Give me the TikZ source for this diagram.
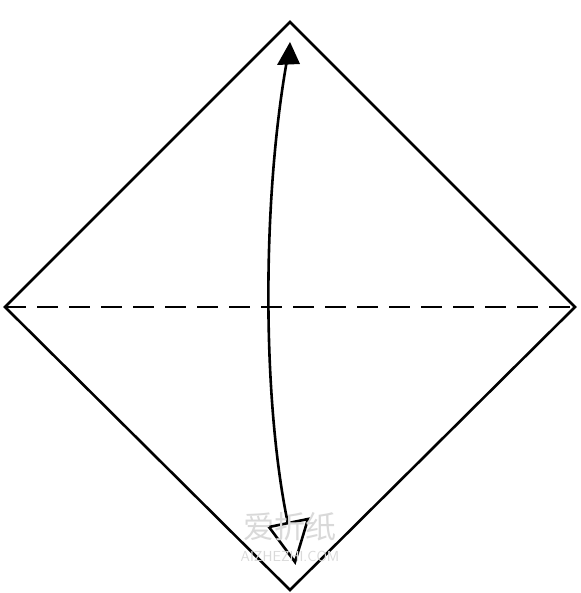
\documentclass[tikz,border=0pt]{standalone}
\usepackage{fontspec}
\newfontfamily\cjk{Noto Sans CJK SC}
\begin{document}
\begin{tikzpicture}[x=1pt,y=-1pt,
  edge/.style={line width=2.6pt,line join=miter},
  fold/.style={line width=2.8pt,dash pattern=on 21pt off 11pt},
  arc/.style={line width=2.6pt},
  wm/.style={text=gray!30,inner sep=0pt}]
\useasboundingbox[fill=white] (0,0) rectangle (580,593);
\coordinate (T) at (290,22);
\coordinate (L) at (5,307);
\coordinate (R) at (575,307);
\coordinate (B) at (290,590);
\draw[edge] (T) -- (R) -- (B) -- (L) -- cycle;
\draw[fold] (L) -- (R);
% curved arrow
\coordinate (s) at (288,524);
\coordinate (e) at (287,60);
\draw[arc] (s) .. controls (262,400) and (262,200) .. (e);
% filled head at top
\coordinate (h1) at (290,42);
\coordinate (h2) at (277,65);
\coordinate (h3) at (300,64);
\fill (h1) -- (h2) -- (h3) -- cycle;
% open head at bottom
\coordinate (b1) at (269,527);
\coordinate (b2) at (308,519);
\coordinate (b3) at (295,562);
\draw[arc,line join=miter] (b1) -- (b2) -- (b3) -- cycle;
% watermark
\node[wm,font=\cjk\fontsize{31}{31}\selectfont] (w1) at (290,527) {爱折纸};
\node[wm,font=\sffamily\fontsize{14.5}{14.5}\selectfont] (w2) at (290,556) {AIZHEZHI.COM};
\end{tikzpicture}
\end{document}
